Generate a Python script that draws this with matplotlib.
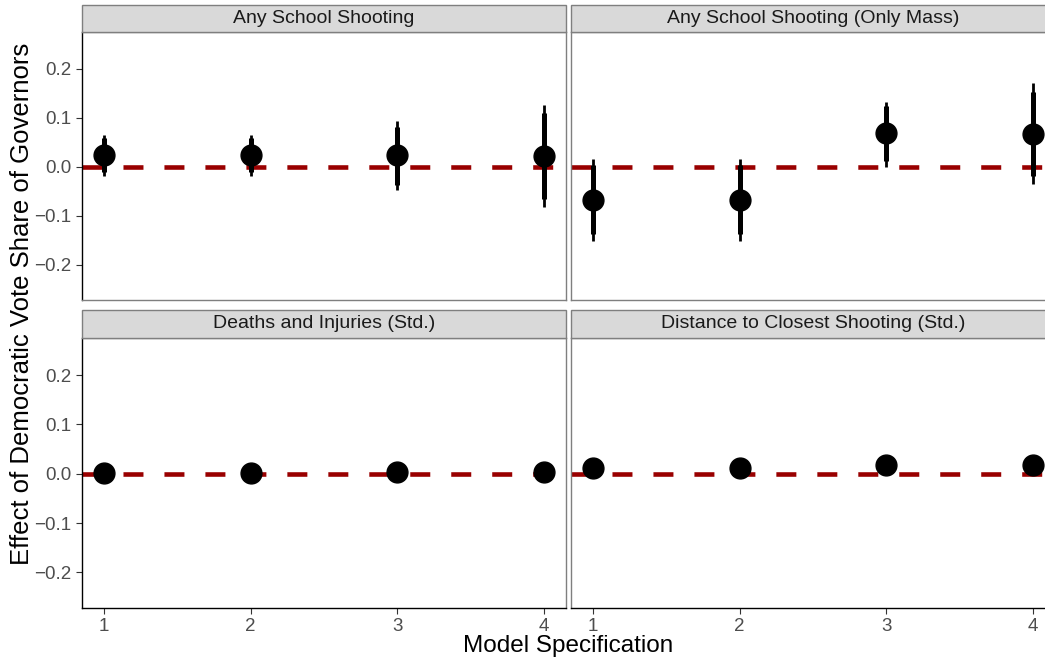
import matplotlib
matplotlib.use("Agg")
import matplotlib.pyplot as plt
from matplotlib.patches import Rectangle

plt.rcParams['font.family'] = ['Liberation Sans', 'DejaVu Sans']
plt.rcParams['lines.scale_dashes'] = False

panels = ["Any School Shooting", "Any School Shooting (Only Mass)",
          "Deaths and Injuries (Std.)", "Distance to Closest Shooting (Std.)"]
models = [1, 2, 3, 4]

est = [
    [0.024, 0.024, 0.023, 0.022],
    [-0.067, -0.067, 0.068, 0.067],
    [0.002, 0.002, 0.004, 0.004],
    [0.011, 0.011, 0.017, 0.017],
]
# 90% intervals (thick)
lo90 = [
    [-0.010, -0.010, -0.038, -0.065],
    [-0.137, -0.137, 0.012, -0.018],
    [-0.002, -0.002, -0.001, -0.001],
    [0.008, 0.008, 0.013, 0.013],
]
hi90 = [
    [0.059, 0.059, 0.082, 0.109],
    [0.003, 0.003, 0.123, 0.153],
    [0.006, 0.006, 0.009, 0.009],
    [0.014, 0.014, 0.021, 0.021],
]
# 95% intervals (thin)
lo95 = [
    [-0.018, -0.018, -0.048, -0.083],
    [-0.151, -0.151, 0.000, -0.036],
    [-0.003, -0.003, -0.002, -0.002],
    [0.007, 0.007, 0.012, 0.012],
]
hi95 = [
    [0.065, 0.065, 0.094, 0.126],
    [0.016, 0.016, 0.133, 0.170],
    [0.007, 0.007, 0.010, 0.010],
    [0.015, 0.015, 0.022, 0.022],
]
yticks = [-0.2, -0.1, 0.0, 0.1, 0.2]
ytick_labels = ["\u22120.2", "\u22120.1", "0.0", "0.1", "0.2"]

W, H = 1045, 662
fig = plt.figure(figsize=(W / 100, H / 100), dpi=100)

pw = 484
lefts = [82, 571]
tops = [(32, 300), (338, 608)]
strips = [(5, 32), (310, 338)]
gray = "#7F7F7F"

for i, name in enumerate(panels):
    r, c = divmod(i, 2)
    x0 = lefts[c]
    yt, yb = tops[r]
    ax = fig.add_axes([x0 / W, (H - yb) / H, pw / W, (yb - yt) / H])
    ax.set_xlim(0.85, 4.15)
    ax.set_ylim(-0.272, 0.275)
    ax.axhline(0, color="#990000", lw=3.3, linestyle=(0, (14.4, 15.1)), zorder=1)
    ax.vlines(models, lo95[i], hi95[i], color="black", lw=2.0, zorder=2)
    ax.vlines(models, lo90[i], hi90[i], color="black", lw=3.6, zorder=3)
    ax.plot(models, est[i], "o", color="black", ms=15, zorder=4, linestyle="none")
    for s in ax.spines.values():
        s.set_color(gray)
        s.set_linewidth(1.0)
    ax.set_xticks(models)
    ax.set_yticks(yticks)
    ax.tick_params(colors="#333333", labelcolor="#4D4D4D", labelsize=13.5, length=4, width=0.8)
    if c == 0:
        ax.spines['left'].set_color("black")
        ax.set_yticklabels(ytick_labels)
    else:
        ax.tick_params(axis='y', left=False, labelleft=False)
    if r == 1:
        ax.spines['bottom'].set_color("black")
        ax.set_xticklabels([str(m) for m in models])
    else:
        ax.tick_params(axis='x', bottom=False, labelbottom=False)
    # strip
    st, sb = strips[r]
    fig.patches.append(Rectangle((x0 / W, (H - sb) / H), pw / W, (sb - st) / H,
                                 transform=fig.transFigure, facecolor="#D9D9D9",
                                 edgecolor=gray, lw=1.0))
    fig.text((x0 + pw / 2) / W if c == 0 else (x0 + pw / 2) / W, (H - (st + sb) / 2) / H, name,
             ha="center", va="center", fontsize=14, color="#1A1A1A")

fig.text(22 / W, (H - 304) / H, "Effect of Democratic Vote Share of Governors",
         rotation=90, ha="center", va="center", fontsize=18.5, color="black")
fig.text(568 / W, (H - 646) / H, "Model Specification",
         ha="center", va="center", fontsize=17.5, color="black")

fig.savefig("out.png", dpi=100)
